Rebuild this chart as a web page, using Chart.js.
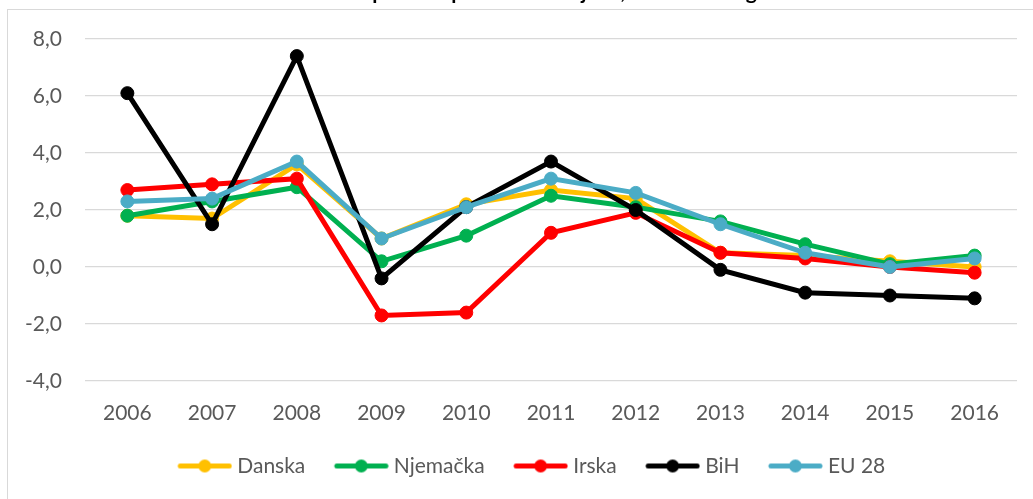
<!DOCTYPE html>
<html>
<head>
<meta charset="utf-8">
<script src="https://cdn.jsdelivr.net/npm/chart.js@4/dist/chart.umd.min.js"></script>
<style>
  html, body { margin: 0; padding: 0; background: #ffffff; overflow: hidden; }
  #wrap { position: relative; width: 1033px; height: 499px; overflow: hidden; }
  #frame { position: absolute; left: 7px; top: 9px; width: 1100px; height: 600px; border: 1px solid #d9d9d9; box-sizing: border-box; }
  #c { position: absolute; left: 0; top: 0; }
</style>
</head>
<body>
<div id="wrap">
  <div id="frame"></div>
  <canvas id="c" width="1033" height="499"></canvas>
</div>
<script>
const chartTitle = 'Stopa rasta potrošačkih cijena, 2006-2016. godina';
const years = ['2006','2007','2008','2009','2010','2011','2012','2013','2014','2015','2016'];
const seriesNames = ['Danska', 'Njemačka', 'Irska', 'BiH', 'EU 28'];
const danska   = [1.8, 1.7, 3.6, 1.0, 2.2, 2.7, 2.4, 0.5, 0.4, 0.2, 0.0];
const njemacka = [1.8, 2.3, 2.8, 0.2, 1.1, 2.5, 2.1, 1.6, 0.8, 0.1, 0.4];
const irska    = [2.7, 2.9, 3.1, -1.7, -1.6, 1.2, 1.9, 0.5, 0.3, 0.0, -0.2];
const bih      = [6.1, 1.5, 7.4, -0.4, 2.1, 3.7, 2.0, -0.1, -0.9, -1.0, -1.1];
const eu28     = [2.3, 2.4, 3.7, 1.0, 2.1, 3.1, 2.6, 1.5, 0.5, 0.0, 0.3];
const yMin = -4, yMax = 8, yStep = 2;

const colors = ['#FFC000', '#00B050', '#FF0000', '#000000', '#4BACC6'];
const seriesData = [danska, njemacka, irska, bih, eu28];
const FONT = 'Lato, Carlito, "Liberation Sans", sans-serif';
const TEXT = '#595959';

function legendMarker(color) {
  const cv = document.createElement('canvas');
  cv.width = 66; cv.height = 15;
  const g = cv.getContext('2d');
  g.strokeStyle = color; g.lineWidth = 5; g.lineCap = 'round';
  g.beginPath(); g.moveTo(14, 7.5); g.lineTo(63, 7.5); g.stroke();
  g.fillStyle = color;
  g.beginPath(); g.arc(38.5, 7.5, 6.5, 0, Math.PI * 2); g.fill();
  return cv;
}
const markers = colors.map(legendMarker);

const datasets = seriesNames.map((name, i) => ({
  label: name,
  data: seriesData[i],
  borderColor: colors[i],
  backgroundColor: colors[i],
  pointBackgroundColor: colors[i],
  pointBorderColor: colors[i],
  borderWidth: 5,
  pointRadius: 6.5,
  pointBorderWidth: 1,
  pointHoverRadius: 6.5,
  tension: 0,
  order: seriesNames.length - i
}));

const titlePlugin = {
  id: 'cutTitle',
  afterLayout(chart) {
    const lg = chart.legend;
    if (lg) { lg.left += 20; lg.right += 20; }
  },
  afterDraw(chart) {
    const ctx = chart.ctx;
    ctx.save();
    ctx.font = 'bold 21px ' + FONT;
    ctx.fillStyle = '#000000';
    ctx.textAlign = 'center';
    ctx.textBaseline = 'alphabetic';
    ctx.fillText(chartTitle, 575, -1);
    ctx.restore();
  }
};

new Chart(document.getElementById('c'), {
  type: 'line',
  data: { labels: years, datasets },
  plugins: [titlePlugin],
  options: {
    responsive: false,
    animation: false,
    layout: { padding: { left: 0, right: 16, top: 39, bottom: 12.5 } },
    plugins: {
      tooltip: { enabled: false },
      title: { display: false },
      legend: {
        position: 'bottom',
        labels: {
          usePointStyle: true,
          pointStyleWidth: 55,
          padding: 23,
          color: TEXT,
          font: { family: FONT, size: 21 },
          generateLabels: (chart) => chart.data.datasets.map((ds, i) => ({
            text: ds.label,
            fillStyle: colors[i],
            strokeStyle: colors[i],
            lineWidth: 0,
            pointStyle: markers[i],
            hidden: false,
            datasetIndex: i,
            fontColor: TEXT
          }))
        }
      }
    },
    scales: {
      x: {
        type: 'category',
        offset: true,
        grid: { display: false, drawTicks: false },
        border: { display: false },
        ticks: { color: TEXT, font: { family: FONT, size: 21 }, padding: 20, maxRotation: 0, autoSkip: false },
        afterFit: (s) => { s.height = 51.5; }
      },
      y: {
        min: yMin, max: yMax,
        grid: { color: '#d9d9d9', lineWidth: 1.3, drawTicks: false },
        border: { display: false },
        ticks: {
          stepSize: yStep,
          color: TEXT,
          font: { family: FONT, size: 21 },
          padding: 23,
          callback: (v) => v.toFixed(1).replace('.', ',')
        },
        afterFit: (s) => { s.width = 85; }
      }
    }
  }
});
</script>
</body>
</html>
